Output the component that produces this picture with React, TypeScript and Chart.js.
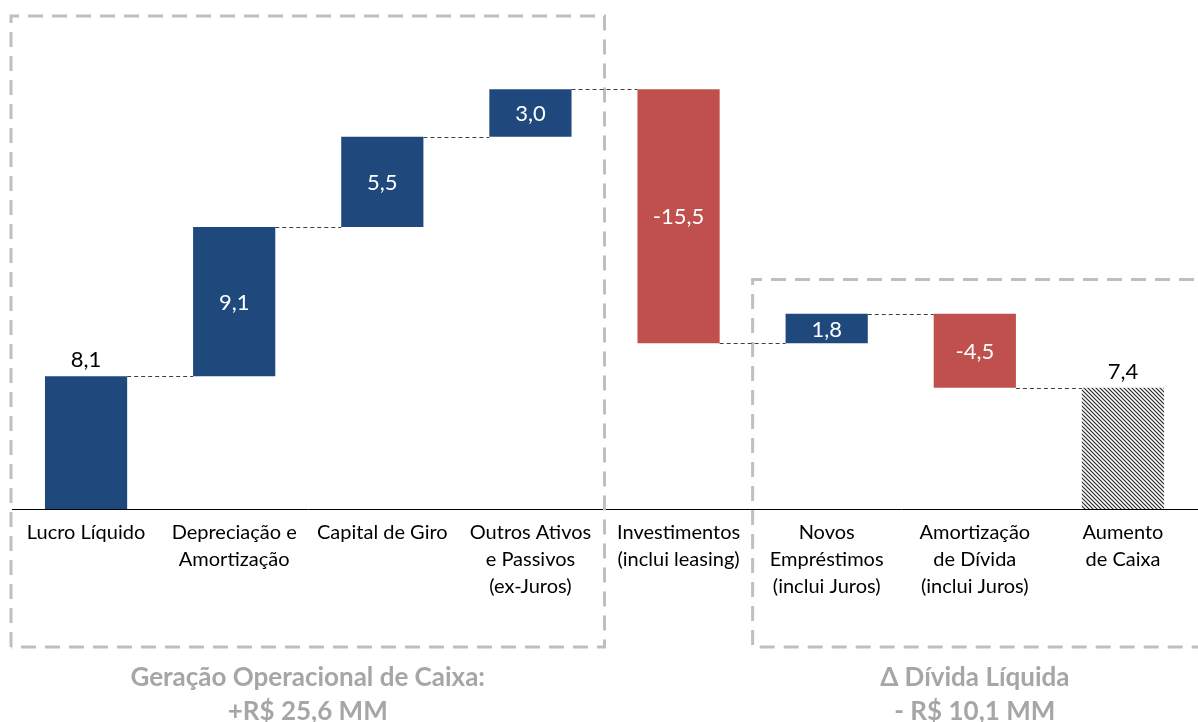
import React, { useEffect, useRef } from "react";
import { Chart, registerables } from "chart.js";

Chart.register(...registerables);

const categories: string[][] = [
  ["Lucro Líquido"],
  ["Depreciação e", "Amortização"],
  ["Capital de Giro"],
  ["Outros Ativos", "e Passivos", "(ex-Juros)"],
  ["Investimentos", "(inclui leasing)"],
  ["Novos", "Empréstimos", "(inclui Juros)"],
  ["Amortização", "de Dívida", "(inclui Juros)"],
  ["Aumento", "de Caixa"],
];
const barStart = [0, 8.1, 17.2, 22.7, 25.6, 10.1, 11.9, 0];
const barEnd = [8.1, 17.2, 22.7, 25.6, 10.1, 11.9, 7.4, 7.4];
const valueLabels = ["8,1", "9,1", "5,5", "3,0", "-15,5", "1,8", "-4,5", "7,4"];
const barKinds = ["total", "up", "up", "up", "down", "up", "down", "result"];
const captionLeft = ["Geração Operacional de Caixa:", "+R$ 25,6 MM"];
const captionRight = ["Δ Dívida Líquida", "- R$ 10,1 MM"];

const BLUE = "#1F497D";
const RED = "#C0504D";
const FONT = "Lato, 'Open Sans', sans-serif";

function makeHatch(): CanvasPattern | string {
  const c = document.createElement("canvas");
  c.width = 4;
  c.height = 4;
  const g = c.getContext("2d");
  if (!g) return "#888";
  g.fillStyle = "#ffffff";
  g.fillRect(0, 0, 4, 4);
  g.strokeStyle = "#2a2a2a";
  g.lineWidth = 1.2;
  g.beginPath();
  g.moveTo(-1, -1);
  g.lineTo(5, 5);
  g.moveTo(-1, 3);
  g.lineTo(1, 5);
  g.moveTo(3, -1);
  g.lineTo(5, 1);
  g.stroke();
  const p = g.createPattern(c, "repeat");
  return p || "#888";
}

const overlayPlugin = {
  id: "overlay",
  beforeDatasetsDraw(chart: any) {
    const ctx = chart.ctx as CanvasRenderingContext2D;
    const xs = chart.scales.x;
    const ys = chart.scales.y;
    ctx.save();
    ctx.strokeStyle = "#bfbfbf";
    ctx.lineWidth = 3;
    ctx.setLineDash([15, 9]);
    const bottom = 647;
    // left box
    const l1 = 11;
    const r1 = xs.getPixelForValue(3.5);
    const t1 = ys.getPixelForValue(30) - 1;
    ctx.beginPath();
    ctx.moveTo(l1, bottom);
    ctx.lineTo(l1, t1);
    ctx.lineTo(r1, t1);
    ctx.lineTo(r1, bottom);
    ctx.lineTo(l1, bottom);
    ctx.stroke();
    // right box
    const l2 = xs.getPixelForValue(4.5);
    const t2 = ys.getPixelForValue(14);
    const r2 = chart.width + 20;
    ctx.beginPath();
    ctx.moveTo(r2, t2);
    ctx.lineTo(l2, t2);
    ctx.lineTo(l2, bottom);
    ctx.lineTo(r2, bottom);
    ctx.stroke();
    ctx.setLineDash([]);

    // captions
    ctx.fillStyle = "#a6a6a6";
    ctx.font = `bold 26px ${FONT}`;
    ctx.textAlign = "center";
    ctx.textBaseline = "middle";
    const c1 = (l1 + r1) / 2;
    const c2 = xs.getPixelForValue(6);
    captionLeft.forEach((t, i) => ctx.fillText(t, c1, 678 + i * 34));
    captionRight.forEach((t, i) => ctx.fillText(t, c2, 678 + i * 34));
    ctx.restore();
  },
  afterDatasetsDraw(chart: any) {
    const ctx = chart.ctx as CanvasRenderingContext2D;
    const ys = chart.scales.y;
    const meta = chart.getDatasetMeta(0);
    ctx.save();
    // connectors
    ctx.strokeStyle = "#404040";
    ctx.lineWidth = 1;
    ctx.setLineDash([4, 3]);
    for (let i = 0; i < barEnd.length - 1; i++) {
      const a = meta.data[i];
      const b = meta.data[i + 1];
      const y = Math.round(ys.getPixelForValue(barEnd[i])) + 0.5;
      ctx.beginPath();
      ctx.moveTo(a.x + a.width / 2, y);
      ctx.lineTo(b.x - b.width / 2, y);
      ctx.stroke();
    }
    ctx.setLineDash([]);
    // value labels
    ctx.font = `22px ${FONT}`;
    ctx.textAlign = "center";
    for (let i = 0; i < barEnd.length; i++) {
      const el = meta.data[i];
      const top = ys.getPixelForValue(Math.max(barStart[i], barEnd[i]));
      const bot = ys.getPixelForValue(Math.min(barStart[i], barEnd[i]));
      if (barKinds[i] === "total" || barKinds[i] === "result") {
        ctx.fillStyle = "#000000";
        ctx.textBaseline = "alphabetic";
        ctx.fillText(valueLabels[i], el.x, top - 9);
      } else {
        ctx.fillStyle = "#ffffff";
        ctx.textBaseline = "middle";
        ctx.fillText(valueLabels[i], el.x, (top + bot) / 2 + 1);
      }
    }
    ctx.restore();
  },
};

export default function App() {
  const ref = useRef<HTMLCanvasElement | null>(null);
  useEffect(() => {
    if (!ref.current) return;
    const hatch = makeHatch();
    const colors = barKinds.map((k) =>
      k === "down" ? RED : k === "result" ? hatch : BLUE
    );
    const chart = new Chart(ref.current, {
      type: "bar",
      data: {
        labels: categories,
        datasets: [
          {
            data: barStart.map((s, i) => [s, barEnd[i]]) as any,
            backgroundColor: colors as any,
            borderWidth: 0,
            barPercentage: 0.555,
            categoryPercentage: 1,
          },
        ],
      },
      options: {
        animation: false,
        responsive: true,
        maintainAspectRatio: false,
        layout: { padding: { left: 12, right: 1, top: 17, bottom: 0 } },
        plugins: {
          legend: { display: false },
          tooltip: { enabled: false },
        },
        scales: {
          x: {
            grid: { display: false, drawTicks: false },
            border: { display: true, color: "#000000", width: 1 },
            ticks: {
              color: "#000000",
              font: { family: FONT, size: 20, lineHeight: 1.35 },
              padding: 10,
              maxRotation: 0,
              autoSkip: false,
            },
            afterFit: (scale: any) => {
              scale.height = 213;
            },
          },
          y: {
            display: false,
            min: 0,
            max: 30,
          },
        },
      },
      plugins: [overlayPlugin],
    });
    return () => chart.destroy();
  }, []);
  return (
    <div
      style={{
        position: "fixed",
        left: 0,
        top: 0,
        width: 1198,
        height: 722,
        background: "#ffffff",
      }}
    >
      <canvas ref={ref} />
    </div>
  );
}
